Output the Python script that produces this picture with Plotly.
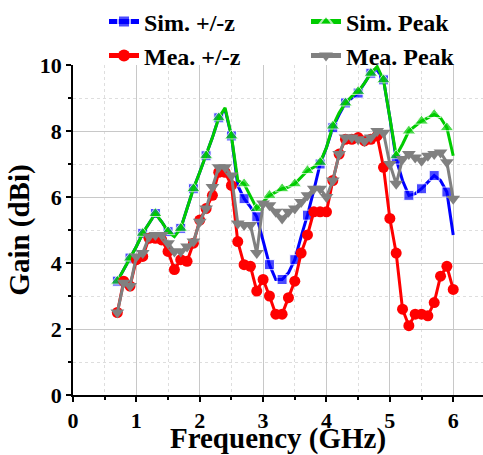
import plotly.graph_objects as go

# Frequency grid (GHz), 0.1 GHz step
freq = [0.7, 0.8, 0.9, 1.0, 1.1, 1.2, 1.3, 1.4, 1.5, 1.6,
        1.7, 1.8, 1.9, 2.0, 2.1, 2.2, 2.3, 2.4, 2.5, 2.6,
        2.7, 2.8, 2.9, 3.0, 3.1, 3.2, 3.3, 3.4, 3.5, 3.6,
        3.7, 3.8, 3.9, 4.0, 4.1, 4.2, 4.3, 4.4, 4.5, 4.6,
        4.7, 4.8, 4.9, 5.0, 5.1, 5.2, 5.3, 5.4, 5.5, 5.6,
        5.7, 5.8, 5.9, 6.0]

# Gain (dBi)
sim_z = [3.45, 3.8, 4.15, 4.5, 4.9, 5.2, 5.5, 5.25, 4.95, 4.85,
         5.05, 5.65, 6.25, 6.75, 7.25, 7.8, 8.4, 8.65, 7.85, 6.35,
         5.95, 5.7, 5.4, 4.7, 3.95, 3.5, 3.5, 3.7, 4.1, 4.8,
         5.45, 6.2, 7.0, 7.5, 8.1, 8.5, 8.85, 9.0, 9.15, 9.45,
         9.75, 9.85, 9.55, 8.4, 7.15, 6.5, 6.05, 6.1, 6.25, 6.45,
         6.65, 6.5, 6.15, 4.85]

sim_peak = [3.45, 3.8, 4.15, 4.5, 4.9, 5.2, 5.5, 5.25, 4.95, 4.8,
            5.05, 5.65, 6.25, 6.75, 7.25, 7.8, 8.4, 8.7, 7.85, 6.5,
            6.4, 6.0, 5.65, 5.85, 6.05, 6.15, 6.25, 6.3, 6.4, 6.6,
            6.8, 6.9, 7.05, 7.5, 8.15, 8.55, 8.85, 9.05, 9.2, 9.45,
            9.75, 9.95, 9.55, 8.4, 7.25, 7.6, 8.0, 8.15, 8.3, 8.4,
            8.5, 8.4, 8.1, 7.25]

mea_z = [2.5, 3.45, 3.3, 4.1, 4.2, 4.75, 4.75, 4.7, 4.35, 3.8,
         4.1, 4.05, 4.6, 5.3, 5.65, 6.05, 6.75, 6.75, 6.35, 4.65,
         3.95, 3.9, 3.15, 3.5, 3.0, 2.45, 2.45, 2.95, 3.45, 4.3,
         4.85, 5.55, 5.55, 5.55, 6.5, 7.3, 7.75, 7.75, 7.8, 7.7,
         7.75, 7.85, 6.9, 5.35, 4.3, 2.6, 2.1, 2.45, 2.45, 2.4,
         2.8, 3.6, 3.9, 3.2]

mea_peak = [2.5, 3.4, 3.3, 4.2, 4.3, 4.8, 4.85, 4.85, 4.6, 4.35,
            4.35, 4.5, 4.65, 5.25, 5.65, 6.3, 6.9, 6.9, 6.65, 5.2,
            5.15, 5.15, 4.3, 5.8, 5.75, 5.55, 5.35, 5.55, 5.65, 5.85,
            6.05, 6.25, 6.25, 6.0, 6.5, 7.3, 7.8, 7.8, 7.75, 7.7,
            7.8, 8.0, 7.95, 7.0, 6.4, 7.15, 7.3, 7.2, 7.1, 7.25,
            7.3, 7.35, 7.05, 5.95]

x_ticks = [0, 1, 2, 3, 4, 5, 6]
y_ticks = [0, 2, 4, 6, 8, 10]

FONT = "Liberation Serif"
W, H = 483, 455


def odd_tenth_sizes(xs, size):
    # simulated curves carry a marker on every other frequency point
    return [size if round(x * 10) % 2 == 1 else 0 for x in xs]


fig = go.Figure()

# (name, y, colour, symbol, sizes, legend id, legend x px, legend y px)
series = [
    ("Sim. +/-z", sim_z, "#0000FF", "square", odd_tenth_sizes(freq, 10), "legend", 104, 22),
    ("Sim. Peak", sim_peak, "#00CC00", "triangle-up", odd_tenth_sizes(freq, 12), "legend2", 306, 22),
    ("Mea. +/-z", mea_z, "#FF0000", "circle", 11, "legend3", 104, 56),
    ("Mea. Peak", mea_peak, "#808080", "triangle-down", 12, "legend4", 306, 56),
]

legend_font = dict(family=FONT, size=24, color="black", weight="bold")
legends = {}
for name, ys, color, symbol, sizes, leg, lx, ly in series:
    fig.add_trace(go.Scatter(
        x=freq, y=ys, name=name, mode="lines+markers",
        line=dict(color=color, width=3),
        marker=dict(symbol=symbol, color=color, size=sizes),
        legend=leg, showlegend=True,
    ))
    legends[leg] = dict(
        orientation="h", xref="container", yref="container",
        x=lx / W, y=1 - ly / H, xanchor="left", yanchor="middle",
        bgcolor="rgba(0,0,0,0)", borderwidth=0, font=legend_font,
        itemsizing="constant", visible=True,
    )

fig.update_layout(
    width=W, height=H, showlegend=True,
    margin=dict(l=73, r=0, t=65, b=60, autoexpand=False),
    paper_bgcolor="white", plot_bgcolor="white",
    font=dict(family=FONT, color="black"),
    **legends,
    xaxis=dict(
        range=[0, 6.47], tickvals=x_ticks,
        showline=True, linecolor="black", linewidth=1.5,
        ticks="outside", ticklen=5, tickwidth=1.5, tickcolor="black",
        showgrid=True, gridcolor="#c8c8c8", gridwidth=1,
        zeroline=False,
        tickfont=dict(family=FONT, size=22, weight="bold"),
        minor=dict(dtick=0.5, ticks="outside", ticklen=3, tickcolor="black",
                   showgrid=True, gridcolor="#dedede", griddash="dot"),
        title=dict(text="Frequency (GHz)", standoff=0,
                   font=dict(family=FONT, size=29, weight="bold")),
    ),
    yaxis=dict(
        range=[0, 10], tickvals=y_ticks,
        showline=True, linecolor="black", linewidth=1.5,
        ticks="outside", ticklen=5, tickwidth=1.5, tickcolor="black",
        showgrid=True, gridcolor="#c8c8c8", gridwidth=1,
        zeroline=False,
        tickfont=dict(family=FONT, size=22, weight="bold"),
        minor=dict(dtick=1, ticks="outside", ticklen=3, tickcolor="black",
                   showgrid=True, gridcolor="#dedede", griddash="dot"),
        title=dict(text="Gain (dBi)", standoff=2,
                   font=dict(family=FONT, size=29, weight="bold")),
    ),
)

fig.write_html("out.html")
